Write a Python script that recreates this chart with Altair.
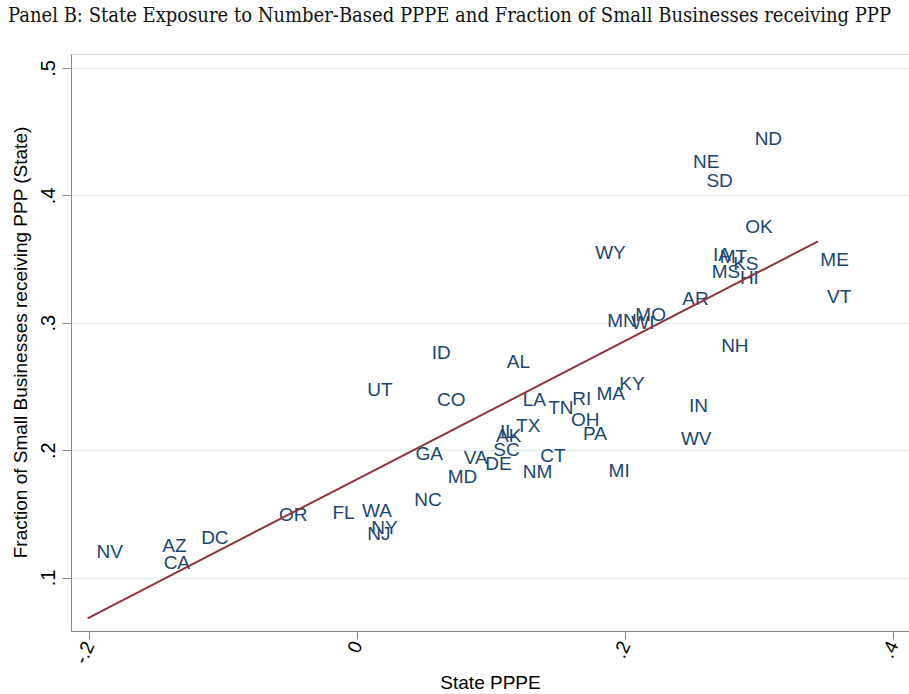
import altair as alt
import pandas as pd

# State-level observations: exposure to number-based PPPE vs. share of small
# businesses that received PPP loans.
states = [
    "NV", "AZ", "CA", "DC", "OR", "FL", "WA", "NY", "NJ", "NC",
    "GA", "MD", "VA", "DE", "SC", "IL", "AK", "TX", "LA", "TN",
    "RI", "OH", "PA", "MA", "KY", "CT", "NM", "MI", "ID", "UT",
    "CO", "AL", "WY", "MN", "WI", "MO", "AR", "IA", "MT", "KS",
    "MS", "HI", "OK", "NE", "SD", "ND", "ME", "VT", "NH", "IN",
    "WV",
]
pppe = [
    -0.201, -0.152, -0.151, -0.123, -0.065, -0.025, -0.003, 0.004, 0.001, 0.036,
    0.037, 0.061, 0.073, 0.089, 0.095, 0.100, 0.097, 0.112, 0.117, 0.136,
    0.154, 0.153, 0.162, 0.172, 0.189, 0.130, 0.117, 0.181, 0.049, 0.001,
    0.053, 0.105, 0.171, 0.180, 0.198, 0.201, 0.236, 0.259, 0.264, 0.274,
    0.258, 0.279, 0.283, 0.244, 0.254, 0.290, 0.339, 0.344, 0.265, 0.241,
    0.235,
]
frac = [
    0.120, 0.125, 0.111, 0.131, 0.149, 0.151, 0.152, 0.139, 0.134, 0.161,
    0.197, 0.179, 0.194, 0.189, 0.200, 0.214, 0.211, 0.219, 0.239, 0.233,
    0.240, 0.224, 0.213, 0.244, 0.252, 0.195, 0.183, 0.184, 0.276, 0.247,
    0.239, 0.269, 0.355, 0.301, 0.300, 0.306, 0.319, 0.353, 0.352, 0.346,
    0.340, 0.335, 0.375, 0.426, 0.411, 0.444, 0.349, 0.320, 0.282, 0.235,
    0.209,
]

x_ticks = [-0.2, 0.0, 0.2, 0.4]
x_tick_labels = ["-.2", "0", ".2", ".4"]
y_ticks = [0.1, 0.2, 0.3, 0.4, 0.5]
y_tick_labels = [".1", ".2", ".3", ".4", ".5"]

title_text = ("Panel B: State Exposure to Number-Based PPPE and Fraction of "
              "Small Businesses receiving PPP")


def label_expr(ticks, labels):
    """Vega expression mapping each tick value to its printed label."""
    expr = "''"
    for t, lab in reversed(list(zip(ticks, labels))):
        expr = f"abs(datum.value - ({t})) < 1e-6 ? '{lab}' : " + expr
    return expr


df = pd.DataFrame({"state": states, "pppe": pppe, "frac": frac})

SANS = "Liberation Sans"
NAVY = "#1a476f"
MAROON = "#90353b"

x_enc = alt.X(
    "pppe:Q",
    scale=alt.Scale(domain=[-0.2134, 0.4119], nice=False, zero=False),
    axis=alt.Axis(
        values=x_ticks,
        labelExpr=label_expr(x_ticks, x_tick_labels),
        title="State PPPE",
        grid=False,
        tickSize=8,
        labelAngle=-65,
        labelAlign="right",
        labelBaseline="middle",
        labelPadding=3,
        labelFontSize=19,
        titleFontSize=19,
        titleFontWeight="normal",
        titleY=57,
        titleBaseline="alphabetic",
    ),
)
y_enc = alt.Y(
    "frac:Q",
    scale=alt.Scale(domain=[0.058, 0.511], nice=False, zero=False),
    axis=alt.Axis(
        values=y_ticks,
        labelExpr=label_expr(y_ticks, y_tick_labels),
        title="Fraction of Small Businesses receiving PPP (State)",
        grid=True,
        gridColor="#e6eff1",
        gridWidth=1.5,
        tickSize=9,
        labelAngle=-90,
        labelAlign="center",
        labelBaseline="bottom",
        labelPadding=4,
        labelFontSize=20,
        titleFontSize=19,
        titleFontWeight="normal",
        titleAngle=-90,
        titleX=-51,
        titleY=288,
        titleAlign="center",
        titleBaseline="middle",
    ),
)

labels = alt.Chart(df).mark_text(
    align="left", baseline="middle", dx=9, font=SANS, fontSize=19, color=NAVY
).encode(x=x_enc, y=y_enc, text="state:N")

fit = alt.Chart(df).transform_regression(
    "pppe", "frac"
).mark_line(color=MAROON, strokeWidth=2).encode(x="pppe:Q", y="frac:Q")

chart = (
    alt.layer(labels, fit)
    .properties(
        width=838,
        height=577,
        autosize=alt.AutoSizeParams(type="none"),
        padding={"left": 71, "top": 54, "right": 0, "bottom": 63},
        title=alt.TitleParams(
            title_text,
            anchor="start",
            frame="group",
            dx=-63,
            offset=28,
            font="DejaVu Serif Condensed, Liberation Serif",
            fontSize=20,
            fontWeight="normal",
            color="#111111",
        ),
    )
    .configure_view(stroke=None)
    .configure_axis(
        domainColor="#000000",
        domainWidth=1.5,
        tickColor="#000000",
        tickWidth=1.5,
        labelColor="#000000",
        titleColor="#000000",
        labelFont=SANS,
        titleFont=SANS,
        titleFontWeight="normal",
    )
    .configure(background="white")
)

chart.save("out.html", embed_options={"renderer": "svg", "actions": False})
